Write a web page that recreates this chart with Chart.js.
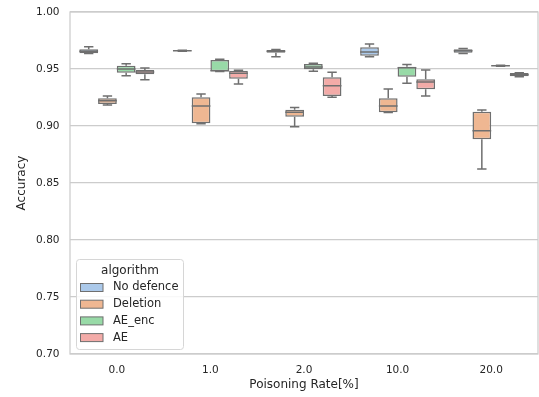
<!DOCTYPE html>
<html>
<head>
<meta charset="utf-8">
<script src="https://cdn.jsdelivr.net/npm/chart.js@4"></script>
<style>
  html, body { margin: 0; padding: 0; background: #fff; }
  #wrap { width: 539px; height: 397px; }
</style>
</head>
<body>
<div id="wrap"><canvas id="acc_chart"></canvas></div>
<script>
const rates = ['0.0', '1.0', '2.0', '10.0', '20.0'];
const algorithms = ['No defence', 'Deletion', 'AE_enc', 'AE'];

// [min, q1, median, q3, max] per poisoning rate
const noDefence = [
    [0.9636, 0.9638, 0.9655, 0.9673, 0.9696],
    [0.9655, 0.9657, 0.9660, 0.9663, 0.9665],
    [0.9608, 0.9643, 0.9655, 0.9667, 0.9672],
    [0.9608, 0.9617, 0.9649, 0.9690, 0.9720],
    [0.9636, 0.9643, 0.9660, 0.9673, 0.9680]
];
const deletion = [
    [0.9184, 0.9193, 0.9222, 0.9243, 0.9263],
    [0.9020, 0.9024, 0.9176, 0.9252, 0.9281],
    [0.8994, 0.9082, 0.9120, 0.9142, 0.9163],
    [0.9118, 0.9120, 0.9176, 0.9243, 0.9325],
    [0.8623, 0.8884, 0.8959, 0.9126, 0.9140]
];
const aeEnc = [
    [0.9441, 0.9468, 0.9500, 0.9529, 0.9547],
    [0.9478, 0.9480, 0.9485, 0.9579, 0.9585],
    [0.9480, 0.9497, 0.9518, 0.9544, 0.9550],
    [0.9375, 0.9433, 0.9512, 0.9520, 0.9540],
    [0.9525, 0.9527, 0.9529, 0.9531, 0.9533]
];
const ae = [
    [0.9406, 0.9454, 0.9474, 0.9491, 0.9509],
    [0.9368, 0.9415, 0.9462, 0.9485, 0.9490],
    [0.9252, 0.9263, 0.9354, 0.9427, 0.9471],
    [0.9263, 0.9322, 0.9385, 0.9410, 0.9491],
    [0.9433, 0.9436, 0.9450, 0.9466, 0.9468]
];

const summaries = [noDefence, deletion, aeEnc, ae];
const colors = ['#abc9ea', '#efb792', '#98daa7', '#f3aba8'];
const edgeGray = '#6f6f6f';
const textColor = '#262626';
const gridColor = '#cccccc';

Chart.defaults.font.family = "'DejaVu Sans', sans-serif";
Chart.defaults.color = textColor;

// whiskers, caps and medians on top of the floating bars
const boxExtras = {
    id: 'boxExtras',
    afterDatasetsDraw(chart) {
        const ctx = chart.ctx;
        const yScale = chart.scales.y;
        ctx.save();
        ctx.strokeStyle = edgeGray;
        ctx.lineWidth = 1.5;
        chart.data.datasets.forEach((ds, di) => {
            const meta = chart.getDatasetMeta(di);
            meta.data.forEach((bar, i) => {
                const s = ds.summary[i];
                const x = bar.x;
                const half = bar.width / 2;
                const cap = bar.width / 4;
                const yMin = yScale.getPixelForValue(s[0]);
                const yQ1 = yScale.getPixelForValue(s[1]);
                const yMed = yScale.getPixelForValue(s[2]);
                const yQ3 = yScale.getPixelForValue(s[3]);
                const yMax = yScale.getPixelForValue(s[4]);
                ctx.beginPath();
                ctx.moveTo(x, yQ1); ctx.lineTo(x, yMin);
                ctx.moveTo(x - cap, yMin); ctx.lineTo(x + cap, yMin);
                ctx.moveTo(x, yQ3); ctx.lineTo(x, yMax);
                ctx.moveTo(x - cap, yMax); ctx.lineTo(x + cap, yMax);
                ctx.moveTo(x - half, yMed); ctx.lineTo(x + half, yMed);
                ctx.stroke();
            });
        });
        ctx.restore();
    }
};

const frameAndLegend = {
    id: 'frameAndLegend',
    beforeDatasetsDraw(chart) {
        const {ctx, chartArea: a} = chart;
        ctx.save();
        ctx.strokeStyle = gridColor;
        ctx.lineWidth = 1.25;
        ctx.strokeRect(a.left, a.top, a.right - a.left, a.bottom - a.top);
        ctx.restore();
    },
    afterDraw(chart) {
        const {ctx, chartArea: a} = chart;
        const w = 107, h = 90;
        const x0 = a.left + 6.5, y0 = a.bottom - 4.5 - h;
        ctx.save();
        ctx.beginPath();
        ctx.roundRect(x0, y0, w, h, 3);
        ctx.fillStyle = 'rgba(255,255,255,0.85)';
        ctx.fill();
        ctx.strokeStyle = '#d6d6d6';
        ctx.lineWidth = 1;
        ctx.stroke();

        ctx.fillStyle = textColor;
        ctx.textBaseline = 'middle';
        ctx.textAlign = 'center';
        ctx.font = "12px 'DejaVu Sans'";
        ctx.fillText('algorithm', x0 + w / 2, y0 + 11);

        ctx.textAlign = 'left';
        ctx.font = "11.5px 'DejaVu Sans'";
        algorithms.forEach((name, i) => {
            const cy = y0 + 28 + i * 16.7;
            ctx.fillStyle = colors[i];
            ctx.fillRect(x0 + 4, cy - 4, 22.5, 8);
            ctx.strokeStyle = edgeGray;
            ctx.lineWidth = 1;
            ctx.strokeRect(x0 + 4, cy - 4, 22.5, 8);
            ctx.fillStyle = textColor;
            ctx.fillText(name, x0 + 36.5, cy);
        });
        ctx.restore();
    }
};

const chart = new Chart(document.getElementById('acc_chart'), {
    type: 'bar',
    data: {
        labels: rates,
        datasets: algorithms.map((name, i) => ({
            label: name,
            data: summaries[i].map(s => [s[1], s[3]]),
            summary: summaries[i],
            backgroundColor: colors[i],
            borderColor: edgeGray,
            borderWidth: 1.5,
            borderSkipped: false,
            categoryPercentage: 0.8,
            barPercentage: 1.0
        }))
    },
    options: {
        responsive: true,
        maintainAspectRatio: false,
        animation: false,
        layout: { padding: { top: 12, right: 1, bottom: 0, left: 0 } },
        plugins: {
            legend: { display: false },
            tooltip: { enabled: false }
        },
        scales: {
            x: {
                grid: { display: false, drawTicks: false },
                border: { display: false },
                ticks: { font: { size: 10.5 }, padding: 10, color: textColor },
                title: {
                    display: true,
                    text: 'Poisoning Rate[%]',
                    font: { size: 12 },
                    padding: { top: 0, bottom: 4.8 },
                    color: textColor
                },
                afterFit(scale) {
                    scale.height = 43;
                    scale.paddingLeft = 0;
                    scale.paddingRight = 0;
                }
            },
            y: {
                min: 0.70,
                max: 1.00,
                grid: { color: gridColor, lineWidth: 1.25, drawTicks: false },
                border: { display: false },
                ticks: {
                    stepSize: 0.05,
                    padding: 10.5,
                    font: { size: 10.5 },
                    color: textColor,
                    callback: v => v.toFixed(2)
                },
                title: {
                    display: true,
                    text: 'Accuracy',
                    font: { size: 12 },
                    padding: { top: 15, bottom: 0 },
                    color: textColor
                },
                afterFit(scale) {
                    scale.width = 70;
                    scale.paddingTop = 0;
                    scale.paddingBottom = 0;
                }
            }
        }
    },
    plugins: [boxExtras, frameAndLegend]
});
</script>
</body>
</html>
